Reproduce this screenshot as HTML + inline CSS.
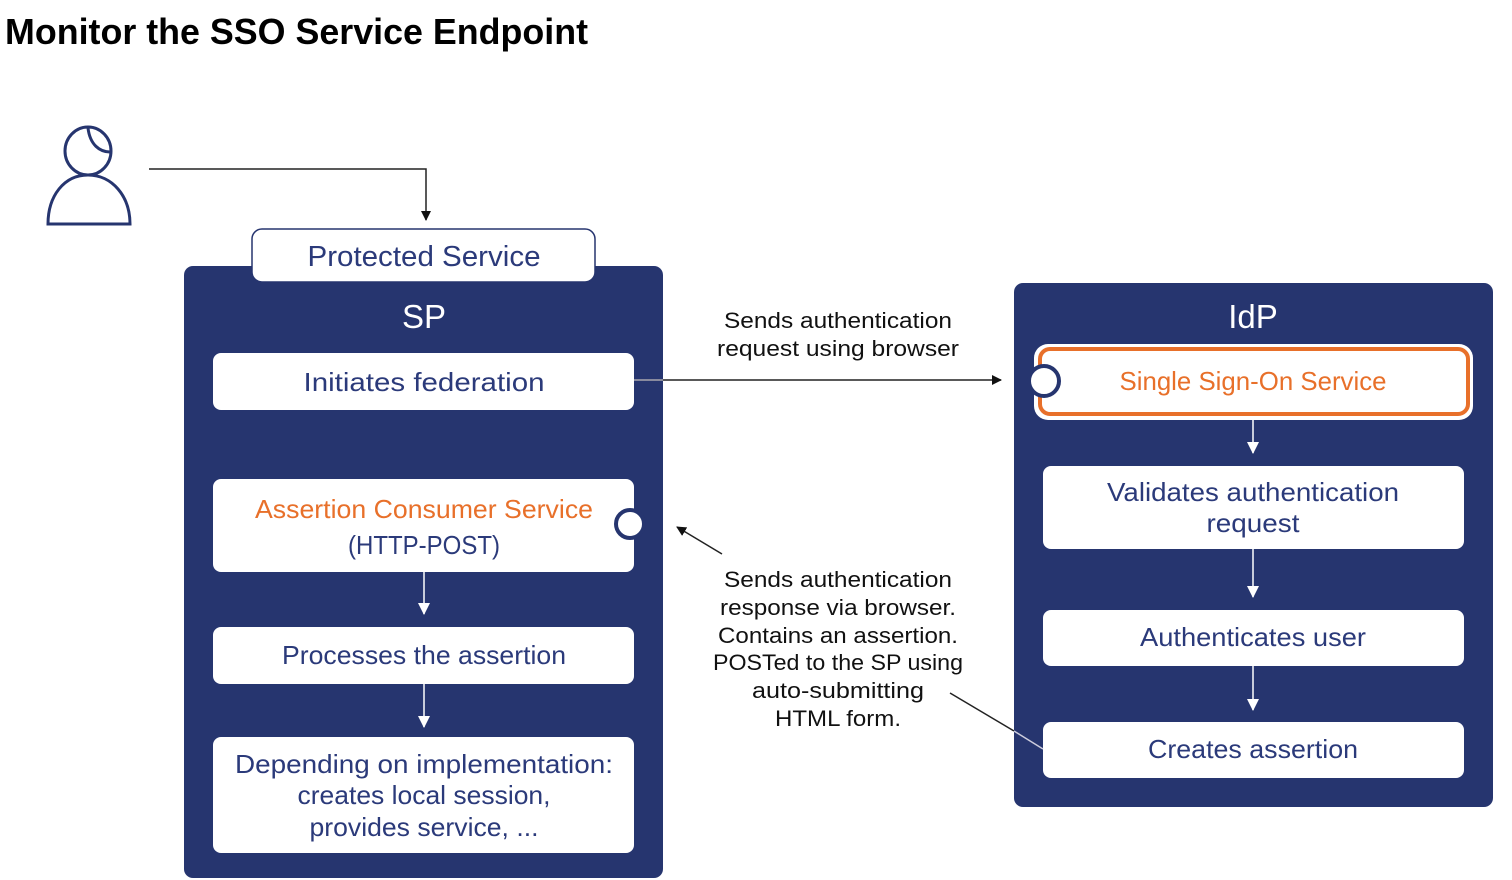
<!DOCTYPE html>
<html><head><meta charset="utf-8"><style>
html,body{margin:0;padding:0;background:#fff;width:1512px;height:880px;overflow:hidden}
svg{display:block}
text{font-family:"Liberation Sans",sans-serif}
</style></head><body>
<svg width="1512" height="880" viewBox="0 0 1512 880" xmlns="http://www.w3.org/2000/svg">
<defs>
<marker id="ab" markerWidth="10" markerHeight="10" refX="9" refY="5" orient="auto" markerUnits="userSpaceOnUse"><path d="M0,0 L10,5 L0,10 z" fill="#111"/></marker>
<marker id="aw" markerWidth="12" markerHeight="12" refX="11" refY="6" orient="auto" markerUnits="userSpaceOnUse"><path d="M0,0 L12,6 L0,12 z" fill="#fff"/></marker>
</defs>
<text x="5" y="44" font-size="36" font-weight="bold" fill="#000" textLength="583" lengthAdjust="spacingAndGlyphs">Monitor the SSO Service Endpoint</text>

<!-- user icon -->
<g fill="none" stroke="#26356f" stroke-width="3">
<ellipse cx="88" cy="151" rx="23" ry="24"/>
<path d="M88,128 C90,145 100,152 110,152"/>
<path d="M48,224 C48,196 64,175 88,175 C112,175 130,196 130,224 Z"/>
</g>
<path d="M149,169 H426 V220" fill="none" stroke="#222" stroke-width="1.5" marker-end="url(#ab)"/>

<!-- SP -->
<rect x="184" y="266" width="479" height="612" rx="9" fill="#26356f"/>
<rect x="252" y="229" width="343" height="53" rx="10" fill="#fff" stroke="#26356f" stroke-width="1.5"/>
<text x="424" y="266" font-size="29" fill="#2b3a7a" text-anchor="middle" textLength="233" lengthAdjust="spacingAndGlyphs">Protected Service</text>
<text x="424" y="328" font-size="33" fill="#fff" text-anchor="middle">SP</text>
<g fill="#fff">
<rect x="213" y="353" width="421" height="57" rx="8"/>
<rect x="213" y="479" width="421" height="93" rx="8"/>
<rect x="213" y="627" width="421" height="57" rx="8"/>
<rect x="213" y="737" width="421" height="116" rx="8"/>
</g>
<circle cx="630" cy="524" r="14" fill="#fff" stroke="#26356f" stroke-width="4"/>
<g font-size="26" fill="#2b3a7a" text-anchor="middle">
<text x="424" y="391" textLength="241" lengthAdjust="spacingAndGlyphs">Initiates federation</text>
<text x="424" y="518" fill="#e8702a" textLength="338" lengthAdjust="spacingAndGlyphs">Assertion Consumer Service</text>
<text x="424" y="554" textLength="152" lengthAdjust="spacingAndGlyphs">(HTTP-POST)</text>
<text x="424" y="664" textLength="284" lengthAdjust="spacingAndGlyphs">Processes the assertion</text>
<text x="424" y="773" textLength="378" lengthAdjust="spacingAndGlyphs">Depending on implementation:</text>
<text x="424" y="804" textLength="253" lengthAdjust="spacingAndGlyphs">creates local session,</text>
<text x="424" y="836" textLength="229" lengthAdjust="spacingAndGlyphs">provides service, ...</text>
</g>
<g stroke="#fff" stroke-width="1.5">
<line x1="424" y1="572" x2="424" y2="614" marker-end="url(#aw)"/>
<line x1="424" y1="684" x2="424" y2="727" marker-end="url(#aw)"/>
</g>

<!-- IdP -->
<rect x="1014" y="283" width="479" height="524" rx="9" fill="#26356f"/>
<text x="1253" y="328" font-size="33" fill="#fff" text-anchor="middle">IdP</text>
<rect x="1034" y="344" width="439" height="76" rx="14" fill="#fff"/>
<rect x="1040" y="349" width="428" height="65" rx="10" fill="#fff" stroke="#e8702a" stroke-width="4"/>
<circle cx="1044" cy="381" r="15" fill="#fff" stroke="#26356f" stroke-width="4"/>
<g fill="#fff">
<rect x="1043" y="466" width="421" height="83" rx="8"/>
<rect x="1043" y="610" width="421" height="56" rx="8"/>
<rect x="1043" y="722" width="421" height="56" rx="8"/>
</g>
<g font-size="26" fill="#2b3a7a" text-anchor="middle">
<text x="1253" y="390" fill="#e8702a" textLength="267" lengthAdjust="spacingAndGlyphs">Single Sign-On Service</text>
<text x="1253" y="501" textLength="292" lengthAdjust="spacingAndGlyphs">Validates authentication</text>
<text x="1253" y="532" textLength="93" lengthAdjust="spacingAndGlyphs">request</text>
<text x="1253" y="646" textLength="226" lengthAdjust="spacingAndGlyphs">Authenticates user</text>
<text x="1253" y="758" textLength="210" lengthAdjust="spacingAndGlyphs">Creates assertion</text>
</g>
<g stroke="#fff" stroke-width="1.5">
<line x1="1253" y1="420" x2="1253" y2="453" marker-end="url(#aw)"/>
<line x1="1253" y1="549" x2="1253" y2="597" marker-end="url(#aw)"/>
<line x1="1253" y1="666" x2="1253" y2="710" marker-end="url(#aw)"/>
</g>

<!-- connectors -->
<line x1="634" y1="380" x2="1001" y2="380" stroke="#222" stroke-width="1.5" marker-end="url(#ab)"/>
<line x1="634" y1="380" x2="663" y2="380" stroke="#aab" stroke-width="1.5"/>
<line x1="722" y1="554" x2="677" y2="527" stroke="#222" stroke-width="1.5" marker-end="url(#ab)"/>
<line x1="950" y1="693" x2="1014" y2="731" stroke="#222" stroke-width="1.5"/>
<line x1="1014" y1="731" x2="1043" y2="749" stroke="#ccd" stroke-width="1.5"/>

<g font-size="22" fill="#111" text-anchor="middle">
<text x="838" y="328" textLength="228" lengthAdjust="spacingAndGlyphs">Sends authentication</text>
<text x="838" y="356" textLength="242" lengthAdjust="spacingAndGlyphs">request using browser</text>
<text x="838" y="587" textLength="228" lengthAdjust="spacingAndGlyphs">Sends authentication</text>
<text x="838" y="615" textLength="236" lengthAdjust="spacingAndGlyphs">response via browser.</text>
<text x="838" y="643" textLength="240" lengthAdjust="spacingAndGlyphs">Contains an assertion.</text>
<text x="838" y="670" textLength="250" lengthAdjust="spacingAndGlyphs">POSTed to the SP using</text>
<text x="838" y="698" textLength="172" lengthAdjust="spacingAndGlyphs">auto-submitting</text>
<text x="838" y="726" textLength="126" lengthAdjust="spacingAndGlyphs">HTML form.</text>
</g>
</svg>
</body></html>
